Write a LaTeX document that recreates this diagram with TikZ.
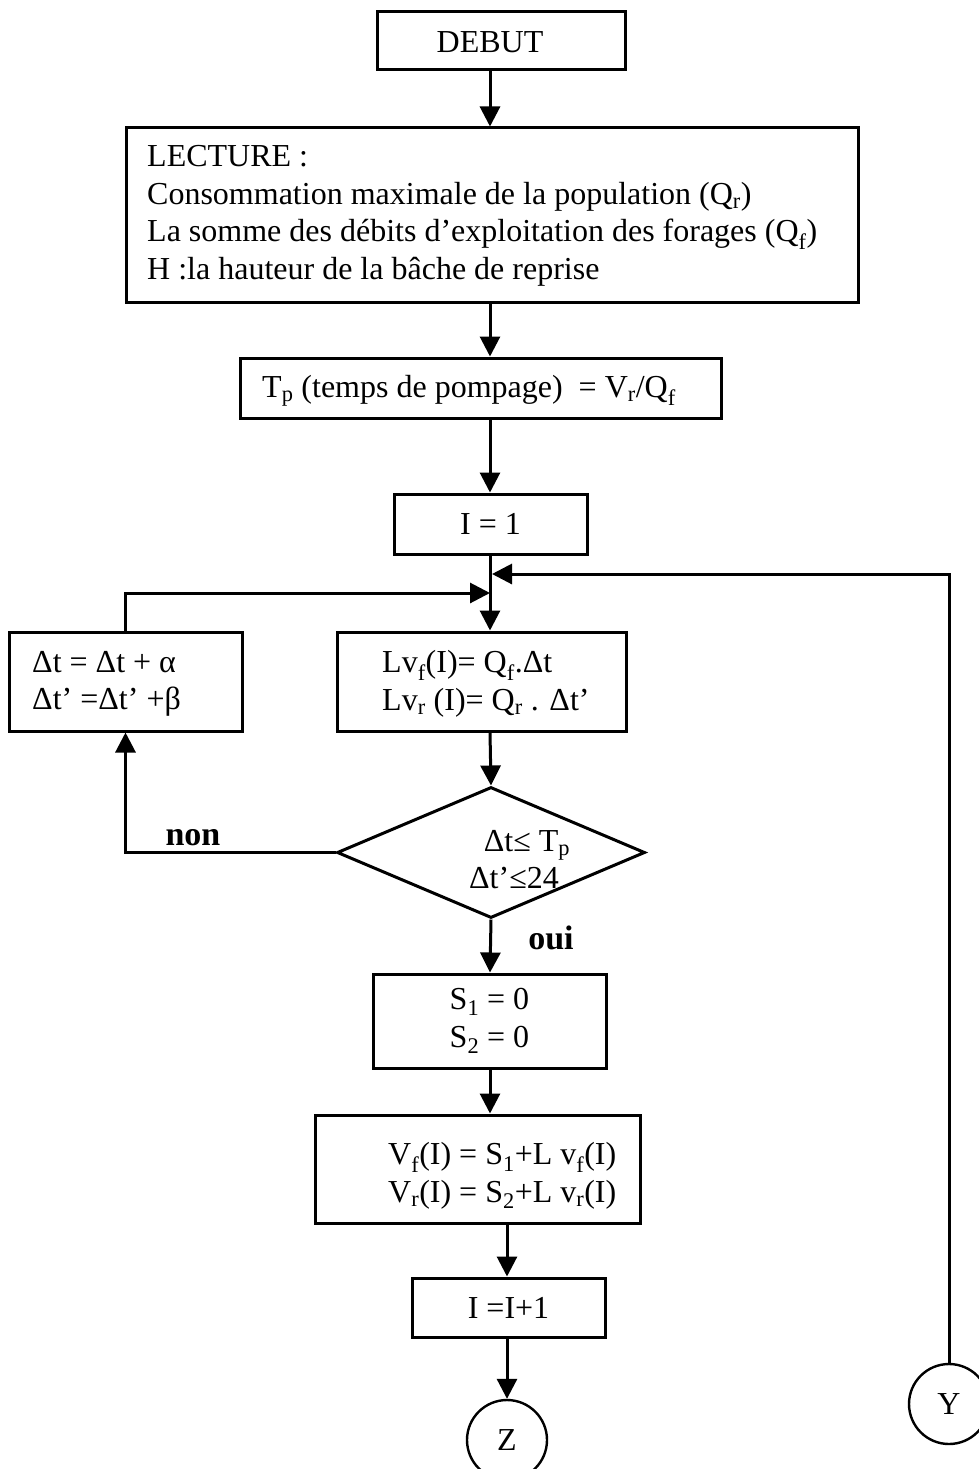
\documentclass[tikz,border=0pt]{standalone}
\usepackage{fontspec}
\setmainfont{Liberation Serif}
\usetikzlibrary{arrows.meta,shapes.geometric}

\tikzset{
  boite/.style={draw, line width=3pt, inner sep=0pt, align=center},
  losange/.style={draw, diamond, line width=3pt, inner sep=0pt},
  fleche/.style={line width=3pt, -{Triangle[length=20pt,width=20pt]}},
  texte/.style={inner sep=0pt, anchor=west, align=left},
  renvoi/.style={draw, circle, line width=2.4pt, minimum size=80pt, inner sep=0pt,
    font=\fontsize{32}{36}\selectfont},
  reponse/.style={inner sep=0pt, font=\fontsize{34}{40}\selectfont\bfseries},
}

\begin{document}
\begin{tikzpicture}[x=1pt,y=-1pt,font=\fontsize{32}{37.5}\selectfont]
\useasboundingbox (0,0) rectangle (979,1469);
\coordinate (axe) at (490,0);
\coordinate (axebas) at (507,0);

% blocs
\node[boite, minimum width=248pt, minimum height=58pt] (debut) at (501,41) {};
\node[inner sep=0pt] (tdebut) at (490,42) {DEBUT};
\node[boite, minimum width=732pt, minimum height=174pt] (lecture) at (492,215) {};
\node[texte] (tlecture) at (147,216) {LECTURE :\\
  Consommation maximale de la population (Q\textsubscript{r})\\
  La somme des débits d’exploitation des forages (Q\textsubscript{f})\\
  H :la hauteur de la bâche de reprise};
\node[boite, minimum width=481pt, minimum height=60pt] (tp) at (480.5,388) {};
\node[texte] (ttp) at (262,391) {T\textsubscript{p} (temps de pompage)\ \ = V\textsubscript{r}/Q\textsubscript{f}};
\node[boite, minimum width=193pt, minimum height=60pt] (init) at (490.5,524) {I = 1};
\node[boite, minimum width=233pt, minimum height=99pt] (pas) at (125.5,681.5) {};
\node[texte] (tpas) at (32,684) {Δt = Δt + α\\Δt’ =Δt’ +β};
\node[boite, minimum width=289pt, minimum height=99pt] (lv) at (481.5,681.5) {};
\node[texte] (tlv) at (382,684) {Lv\textsubscript{f}(I)= Q\textsubscript{f}.Δt\\Lv\textsubscript{r} (I)= Q\textsubscript{r} . Δt’};
\node[losange, minimum width=308pt, minimum height=131pt] (test) at (491,852.5) {};
\node[inner sep=0pt] (cond1) at (527,845) {Δt≤ T\textsubscript{p}};
\node[inner sep=0pt] (cond2) at (514,878) {Δt’≤24};
\node[boite, minimum width=233pt, minimum height=94pt] (raz) at (489.5,1021) {S\textsubscript{1} = 0\\S\textsubscript{2} = 0};
\node[boite, minimum width=325pt, minimum height=108pt] (vol) at (477.5,1169) {};
\node[texte] (tvol) at (388,1176) {V\textsubscript{f}(I) = S\textsubscript{1}+L v\textsubscript{f}(I)\\V\textsubscript{r}(I) = S\textsubscript{2}+L v\textsubscript{r}(I)};
\node[boite, minimum width=193pt, minimum height=59pt] (incr) at (508.5,1307.5) {I =I+1};
\node[renvoi] (z) at (507,1440) {Z};
\node[renvoi] (y) at (949,1404) {Y};

% liaisons
\draw[fleche] (debut.south -| axe) -- (lecture.north -| axe);
\draw[fleche] (lecture.south -| axe) -- (tp.north -| axe);
\draw[fleche] (tp.south -| axe) -- (init.north -| axe);
\draw[fleche] (init.south -| axe) -- (lv.north -| axe);
\draw[fleche] (lv.south -| axe) -- (test.north);
\draw[fleche] (test.south) -- (raz.north -| axe);
\draw[fleche] (raz.south -| axe) -- (vol.north -| axe);
\draw[fleche] (vol.south -| axebas) -- (incr.north -| axebas);
\draw[fleche] (incr.south -| axebas) -- (z.north);

% boucles
\coordinate (retour1) at (490,593);
\coordinate (retour2) at (492,574);
\draw[fleche] (test.west) -| (pas.south);
\draw[fleche] (pas.north) |- (retour1);
\draw[fleche] (y.north) |- (retour2);
\node[reponse] (non) at (193,838) {non};
\node[reponse] (oui) at (551,938) {oui};
\end{tikzpicture}
\end{document}
